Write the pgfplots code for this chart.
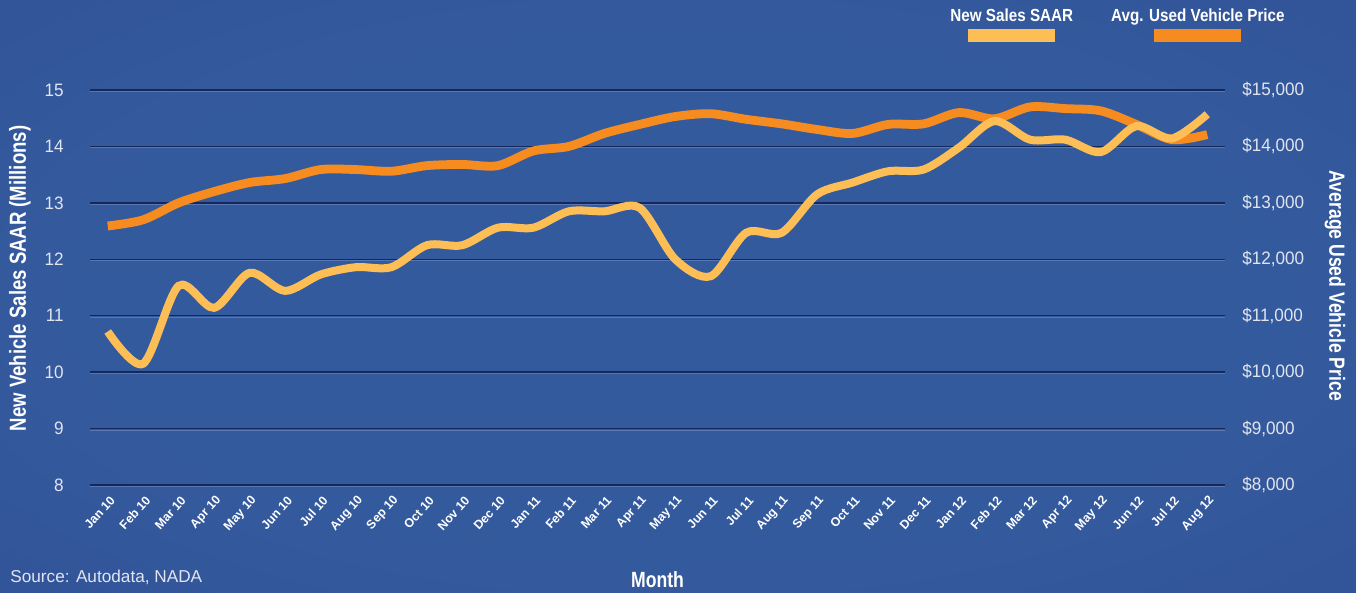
\documentclass[border=0pt]{standalone}
\usepackage{pgfplots}
\pgfplotsset{compat=1.18}
\usepackage{fontspec}
\setmainfont{Liberation Sans}
\newfontfamily\tickfont{Liberation Sans}[FakeStretch=0.95]
\newfontfamily\condfont{Liberation Sans}[FakeStretch=0.8]
\newfontfamily\legfont{Liberation Sans}[FakeStretch=0.87]
\definecolor{saar}{RGB}{253,190,85}
\definecolor{price}{RGB}{246,139,31}
\definecolor{bgin}{RGB}{52,90,158}
\definecolor{bgmid}{RGB}{50,84,152}
\definecolor{bgout}{RGB}{46,62,128}
\definecolor{griddark}{RGB}{20,40,92}
\definecolor{gridlight}{RGB}{88,118,178}
\definecolor{ticktext}{RGB}{226,229,240}
\pgfdeclareradialshading{bgshade}{\pgfpoint{0bp}{0bp}}{color(0bp)=(bgin); color(22bp)=(bgin); color(36bp)=(bgmid); color(50bp)=(bgout)}
\newcommand{\legentry}[2]{\setbox0=\hbox{#1}\dp0=0pt\vbox{\offinterlineskip\hbox{\copy0}\kern3.5pt\hbox to\wd0{\hss\textcolor{#2}{\rule{43.5pt}{6.5pt}}\hss}}}

\pgfplotstableread{
x saar price
0 10.72 12590
1 10.15 12700
2 11.53 13000
3 11.14 13200
4 11.76 13360
5 11.44 13430
6 11.73 13590
7 11.86 13590
8 11.86 13560
9 12.25 13660
10 12.25 13680
11 12.56 13660
12 12.56 13920
13 12.85 14000
14 12.85 14230
15 12.91 14390
16 12.00 14530
17 11.70 14580
18 12.47 14480
19 12.47 14400
20 13.15 14300
21 13.36 14230
22 13.56 14390
23 13.59 14400
24 13.98 14600
25 14.45 14490
26 14.12 14700
27 14.12 14670
28 13.90 14630
29 14.36 14390
30 14.14 14120
31 14.57 14210
}\datatable

\begin{document}
\begin{tikzpicture}
\shade[shading=bgshade] (-45pt,-54pt) rectangle (633pt,242.5pt);
\path[use as bounding box] (-45pt,-54pt) rectangle (633pt,242.5pt);
% right axis with grid and used price
\begin{axis}[
  scale only axis, width=567.5pt, height=197.5pt,
  at={(0,0)}, anchor=south west,
  xmin=-0.5, xmax=31.5, ymin=8000, ymax=15000,
  axis y line*=right, axis x line=none,
  axis line style={draw=none},
  major tick length=0pt, tick style={draw=none},
  ytick={8000,9000,...,15000},
  scaled y ticks=false,
  ymajorgrids,
  major grid style={draw=griddark, line width=0.7pt, postaction={draw=gridlight, line width=0.45pt, transform canvas={yshift=-0.75pt}}},
  /pgf/number format/assume math mode=true,
  /pgf/number format/1000 sep={,},
  yticklabel={\$\pgfmathprintnumber{\tick}},
  yticklabel style={font=\tickfont\fontsize{9}{10}\selectfont, text=ticktext, anchor=west, inner sep=0pt, xshift=8.5pt},
  ylabel={Average Used Vehicle Price},
  ylabel style={font=\condfont\bfseries\fontsize{11}{13}\selectfont, text=white, at={(axis description cs:1.097,0.504)}, anchor=center, rotate=180},
  clip=false,
]
\addplot[price, line width=4.4pt, smooth, tension=0.5] table[x=x, y=price] {\datatable};
\end{axis}
% left axis with new sales
\begin{axis}[
  scale only axis, width=567.5pt, height=197.5pt,
  at={(0,0)}, anchor=south west,
  xmin=-0.5, xmax=31.5, ymin=8, ymax=15,
  axis y line*=left, axis x line*=bottom,
  axis line style={draw=none},
  major tick length=0pt, tick style={draw=none},
  ytick={8,...,15},
  /pgf/number format/assume math mode=true,
  yticklabel style={font=\tickfont\fontsize{9}{10}\selectfont, text=ticktext, anchor=east, inner sep=0pt, xshift=-13pt},
  xtick={0,...,31},
  xticklabels={Jan 10,Feb 10,Mar 10,Apr 10,May 10,Jun 10,Jul 10,Aug 10,Sep 10,Oct 10,Nov 10,Dec 10,Jan 11,Feb 11,Mar 11,Apr 11,May 11,Jun 11,Jul 11,Aug 11,Sep 11,Oct 11,Nov 11,Dec 11,Jan 12,Feb 12,Mar 12,Apr 12,May 12,Jun 12,Jul 12,Aug 12},
  xticklabel style={font=\bfseries\fontsize{6.2}{7}\selectfont, text=white, inner sep=0pt, xshift=2.5pt, yshift=-6.5pt, rotate=48, anchor=east},
  xlabel={Month},
  xlabel style={font=\condfont\bfseries\fontsize{11}{13}\selectfont, text=white, at={(axis description cs:0.5,-0.2405)}, anchor=center},
  ylabel={New Vehicle Sales SAAR (Millions)},
  ylabel style={font=\condfont\bfseries\fontsize{11.6}{13}\selectfont, text=white, at={(axis description cs:-0.0617,0.523)}, anchor=center},
  legend image code/.code={},
  legend columns=2,
  legend style={draw=none, fill=none, inner sep=0pt, at={(axis description cs:1.0529,1.1139)}, anchor=south east,
    font=\legfont\bfseries\fontsize{8.75}{10.5}\selectfont, text=white,
    nodes={inner sep=0pt},
    /tikz/every even column/.append style={column sep=19pt}},
  clip=false,
]
\addplot[saar, line width=4pt, smooth, tension=0.5] table[x=x, y=saar] {\datatable};
\addlegendentry{\legentry{New Sales SAAR}{saar}}
\addlegendimage{empty legend}
\addlegendentry{\legentry{Avg. Used Vehicle Price}{price}}
\node[anchor=base west, font=\fontsize{8.6}{10}\selectfont, text=ticktext, inner sep=0pt] at (axis description cs:-0.0705,-0.2456) {Source: Autodata, NADA};
\end{axis}
\end{tikzpicture}
\end{document}
